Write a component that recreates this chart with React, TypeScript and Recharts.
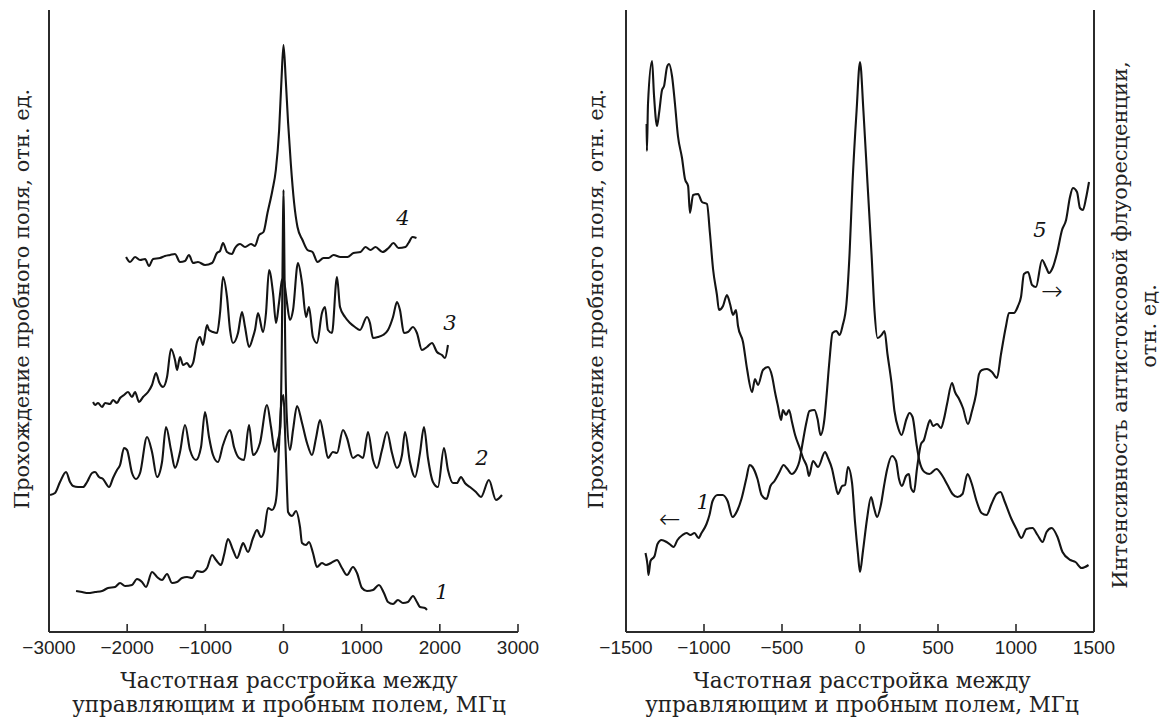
import React from "react";
import { LineChart, Line, XAxis, YAxis, ReferenceDot } from "recharts";

// x: detuning, MHz; y: arbitrary units (same scale on both panels)
const leftTicks = [-3000, -2000, -1000, 0, 1000, 2000, 3000];
const rightTicks = [-1500, -1000, -500, 0, 500, 1000, 1500];

const curve4 = [
  [-2014, 37.5], [-1963, 37.0], [-1899, 37.5], [-1835, 37.2], [-1771, 37.3], [-1720, 36.6],
  [-1669, 37.3], [-1580, 37.4], [-1516, 37.6], [-1452, 37.7], [-1388, 37.8], [-1324, 37.0],
  [-1260, 37.1], [-1209, 37.7], [-1157, 36.9], [-1094, 37.0], [-1004, 36.7], [-914, 36.9],
  [-851, 37.9], [-812, 38.1], [-774, 38.9], [-723, 38.0], [-659, 37.8], [-620, 38.4],
  [-556, 38.8], [-492, 38.5], [-416, 38.8], [-365, 38.6], [-312, 39.7], [-256, 40.0],
  [-205, 41.9], [-141, 44.2], [-98, 46.2], [-56, 50.2], [-26, 55.2], [0, 58.7], [29, 55.2],
  [59, 50.9], [93, 46.9], [136, 42.9], [179, 40.5], [243, 39.2], [307, 38.2], [371, 38.0],
  [435, 37.0], [512, 37.4], [576, 37.4], [640, 37.7], [729, 37.5], [819, 37.5], [895, 37.9],
  [985, 38.0], [1049, 38.5], [1113, 38.2], [1177, 38.5], [1266, 38.0], [1343, 38.4],
  [1407, 38.9], [1471, 38.4], [1560, 38.5], [1599, 38.9], [1650, 39.5], [1701, 39.4],
];

const curve3 = [
  [-2436, 23.0], [-2411, 22.7], [-2373, 22.9], [-2321, 22.5], [-2283, 22.9], [-2219, 22.8],
  [-2181, 23.2], [-2130, 22.9], [-2091, 23.4], [-2040, 23.7], [-1989, 24.0], [-1938, 23.5],
  [-1899, 24.0], [-1848, 23.0], [-1797, 23.5], [-1733, 24.0], [-1682, 24.7], [-1631, 25.9],
  [-1592, 25.0], [-1541, 24.5], [-1490, 25.5], [-1439, 28.3], [-1388, 27.2], [-1362, 26.2],
  [-1324, 27.5], [-1285, 26.7], [-1234, 26.9], [-1196, 26.5], [-1157, 26.9], [-1106, 29.0],
  [-1068, 29.5], [-1030, 28.7], [-978, 30.7], [-953, 30.2], [-902, 30.0], [-850, 29.9],
  [-812, 31.9], [-774, 35.5], [-723, 33.5], [-684, 30.2], [-646, 28.9], [-582, 29.9],
  [-531, 32.0], [-492, 30.5], [-441, 28.5], [-390, 29.5], [-365, 30.2], [-326, 31.9],
  [-262, 30.0], [-224, 31.9], [-185, 36.2], [-134, 33.9], [-96, 30.9], [-58, 32.9],
  [-19, 35.2], [0, 35.4], [19, 34.5], [45, 32.9], [83, 31.2], [122, 32.2], [185, 36.9],
  [237, 34.9], [288, 31.5], [326, 32.5], [377, 29.5], [428, 28.9], [492, 31.9], [531, 32.5],
  [569, 30.2], [620, 29.9], [684, 35.5], [723, 32.5], [787, 31.5], [851, 30.9], [914, 30.5],
  [978, 30.2], [1068, 31.5], [1106, 30.9], [1145, 29.4], [1209, 29.5], [1273, 29.7],
  [1337, 30.2], [1401, 31.5], [1452, 33.0], [1490, 32.2], [1541, 29.9], [1592, 30.0],
  [1656, 30.5], [1707, 29.9], [1771, 28.2], [1835, 28.5], [1899, 28.9], [1963, 28.0],
  [2027, 27.7], [2066, 27.4], [2104, 28.7],
];

const curve2 = [
  [-2986, 13.7], [-2923, 13.9], [-2859, 15.0], [-2782, 16.0], [-2731, 15.0], [-2692, 14.6],
  [-2628, 14.5], [-2564, 14.5], [-2513, 15.0], [-2449, 15.9], [-2411, 16.0], [-2360, 15.5],
  [-2309, 15.3], [-2232, 14.5], [-2181, 15.4], [-2130, 16.2], [-2091, 16.7], [-2040, 18.4],
  [-2002, 18.2], [-1938, 15.9], [-1887, 15.3], [-1835, 15.9], [-1746, 19.5], [-1682, 18.0],
  [-1618, 15.5], [-1554, 17.0], [-1503, 20.5], [-1439, 18.2], [-1388, 16.4], [-1324, 18.0],
  [-1260, 20.7], [-1196, 18.2], [-1119, 17.2], [-1055, 18.5], [-1004, 22.0], [-953, 19.5],
  [-902, 17.7], [-838, 17.0], [-774, 18.7], [-684, 20.2], [-633, 18.5], [-569, 17.4],
  [-505, 17.2], [-441, 20.7], [-390, 17.7], [-301, 18.9], [-211, 22.7], [-160, 20.5],
  [-109, 18.0], [-70, 19.2], [-40, 20.5], [-20, 30.0], [-8, 40.0], [0, 44.2], [8, 40.0],
  [20, 30.0], [40, 21.9], [83, 18.2], [122, 20.2], [173, 22.6], [237, 20.9], [301, 18.9],
  [365, 17.7], [416, 19.4], [467, 21.2], [518, 19.4], [569, 17.4], [633, 18.0], [684, 17.9],
  [761, 20.2], [812, 19.4], [889, 17.4], [953, 17.7], [1017, 17.4], [1081, 20.0], [1145, 17.2],
  [1196, 16.4], [1260, 18.2], [1324, 20.0], [1388, 17.9], [1452, 16.4], [1516, 17.7],
  [1554, 20.0], [1618, 17.0], [1682, 15.5], [1746, 17.9], [1797, 20.5], [1848, 17.4],
  [1912, 15.0], [1976, 14.5], [2053, 18.4], [2104, 16.2], [2168, 14.9], [2219, 14.9],
  [2270, 15.5], [2321, 14.9], [2385, 14.5], [2462, 14.0], [2526, 13.5], [2628, 15.2],
  [2718, 13.2], [2795, 13.7],
];

const curve1 = [
  [-2654, 4.1], [-2577, 4.0], [-2500, 3.9], [-2411, 4.0], [-2321, 4.1], [-2245, 4.4],
  [-2155, 4.5], [-2091, 4.9], [-2027, 4.6], [-1938, 4.7], [-1874, 5.3], [-1810, 5.0],
  [-1759, 4.5], [-1682, 6.0], [-1618, 5.5], [-1554, 5.2], [-1490, 5.8], [-1426, 4.9],
  [-1362, 5.0], [-1298, 5.4], [-1234, 5.5], [-1170, 5.4], [-1106, 6.1], [-1042, 6.0],
  [-978, 6.4], [-914, 7.7], [-863, 7.2], [-799, 6.7], [-761, 7.7], [-710, 9.3], [-646, 8.2],
  [-595, 7.4], [-531, 8.7], [-518, 8.9], [-454, 8.0], [-390, 9.4], [-339, 10.2], [-288, 9.5],
  [-249, 10.0], [-198, 12.4], [-147, 12.2], [-109, 12.7], [-83, 14.2], [-58, 18.5],
  [-32, 22.5], [0, 23.7], [19, 20.2], [45, 14.2], [58, 12.0], [109, 11.6], [160, 12.1],
  [211, 10.5], [237, 8.9], [288, 8.7], [326, 9.0], [377, 7.9], [428, 6.5], [492, 6.9],
  [544, 6.7], [608, 6.9], [684, 7.2], [748, 6.4], [812, 5.7], [889, 6.5], [940, 5.9],
  [1004, 4.4], [1068, 4.1], [1145, 4.2], [1221, 4.7], [1285, 3.9], [1337, 3.0], [1401, 2.8],
  [1464, 3.2], [1528, 2.9], [1592, 3.0], [1656, 3.6], [1707, 3.0], [1746, 2.5], [1810, 2.4],
  [1835, 2.2],
];

const trans1 = [
  [-1375, 7.9], [-1362, 6.7], [-1356, 5.7], [-1343, 7.1], [-1317, 7.6], [-1298, 8.8],
  [-1272, 9.2], [-1240, 9.0], [-1221, 8.8], [-1195, 8.5], [-1170, 9.2], [-1138, 9.7],
  [-1112, 9.9], [-1087, 9.7], [-1061, 9.9], [-1035, 9.4], [-1016, 9.9], [-984, 10.8],
  [-965, 11.7], [-945, 13.1], [-913, 13.7], [-881, 13.7], [-849, 13.1], [-817, 11.5],
  [-785, 12.2], [-760, 13.3], [-728, 15.4], [-708, 16.7], [-689, 16.5], [-657, 15.3],
  [-631, 13.7], [-599, 13.3], [-574, 14.6], [-548, 15.1], [-516, 16.0], [-490, 16.7],
  [-465, 16.3], [-439, 15.8], [-407, 16.3], [-388, 17.1], [-369, 18.8], [-343, 21.0],
  [-324, 22.1], [-292, 22.2], [-272, 21.3], [-253, 19.7], [-228, 21.3], [-215, 23.5],
  [-196, 27.1], [-176, 29.9], [-151, 30.1], [-131, 29.7], [-112, 30.6], [-87, 32.8],
  [-67, 37.8], [-48, 44.9], [-22, 52.1], [0, 57.0], [22, 52.1], [48, 44.9], [74, 37.8],
  [93, 32.1], [112, 29.4], [138, 29.7], [157, 30.1], [176, 27.8], [202, 24.9], [221, 22.1],
  [247, 20.3], [266, 19.7], [298, 21.3], [317, 21.9], [337, 21.5], [362, 18.8], [381, 17.1],
  [413, 16.0], [445, 15.8], [490, 16.3], [529, 15.6], [561, 14.7], [593, 13.8], [625, 13.5],
  [657, 13.8], [689, 15.8], [715, 14.9], [747, 13.1], [779, 11.9], [811, 11.7], [843, 12.8],
  [875, 13.8], [901, 14.0], [926, 13.1], [971, 11.3], [1003, 10.3], [1035, 9.4], [1067, 10.3],
  [1106, 10.4], [1138, 9.7], [1170, 9.0], [1196, 10.0], [1228, 10.4], [1266, 9.5],
  [1298, 8.0], [1349, 7.2], [1381, 7.0], [1420, 6.4], [1465, 6.7],
];

const fluor5 = [
  [-1368, 50.8], [-1366, 48.1], [-1359, 52.8], [-1333, 57.1], [-1321, 53.8], [-1301, 50.6],
  [-1288, 51.9], [-1269, 54.2], [-1256, 54.6], [-1237, 56.5], [-1224, 56.8], [-1205, 55.6],
  [-1186, 52.8], [-1167, 49.6], [-1141, 47.4], [-1122, 45.3], [-1102, 44.6], [-1090, 41.9],
  [-1070, 43.7], [-1038, 43.8], [-1013, 43.0], [-981, 42.8], [-962, 39.9], [-942, 36.3],
  [-917, 33.7], [-904, 32.2], [-878, 32.6], [-853, 33.7], [-833, 32.8], [-814, 31.7],
  [-795, 32.2], [-782, 30.6], [-750, 29.0], [-724, 26.3], [-692, 24.0], [-673, 25.3],
  [-654, 24.7], [-622, 26.2], [-590, 26.5], [-564, 25.6], [-545, 24.0], [-526, 22.6],
  [-506, 21.2], [-494, 22.2], [-474, 21.7], [-455, 22.2], [-436, 21.0], [-416, 19.7],
  [-384, 18.3], [-365, 17.4], [-340, 16.5], [-327, 15.6], [-301, 17.1], [-269, 16.5],
  [-224, 18.0], [-205, 17.4], [-179, 16.3], [-160, 14.9], [-141, 13.8], [-115, 14.6],
  [-96, 14.7], [-77, 16.5], [-51, 14.9], [-32, 11.0], [-13, 7.8], [0, 6.0], [19, 8.1],
  [45, 11.3], [71, 13.5], [90, 12.4], [109, 11.5], [135, 12.8], [154, 14.6], [173, 16.2],
  [205, 17.6], [231, 17.1], [250, 15.3], [269, 14.6], [295, 15.6], [314, 15.8], [327, 14.4],
  [346, 14.0], [365, 16.3], [391, 18.8], [410, 19.2], [429, 20.3], [449, 21.2], [468, 20.6],
  [494, 20.8], [519, 20.4], [538, 21.3], [558, 22.8], [590, 24.9], [609, 24.0], [635, 23.3],
  [660, 22.4], [692, 20.8], [718, 22.1], [744, 23.8], [763, 25.8], [782, 26.2], [814, 26.3],
  [846, 26.0], [878, 25.4], [904, 27.8], [936, 30.6], [955, 31.9], [987, 31.9], [1013, 32.6],
  [1032, 33.5], [1051, 35.8], [1077, 36.0], [1103, 34.7], [1128, 34.5], [1167, 37.2],
  [1192, 36.5], [1212, 35.9], [1237, 36.5], [1263, 37.9], [1295, 40.2], [1321, 41.2],
  [1346, 43.5], [1365, 44.4], [1391, 44.0], [1410, 42.4], [1429, 42.2], [1449, 43.4],
  [1468, 45.0],
];

const leftLabels = [
  { x: 1528, y: 41.4, text: "4" },
  { x: 2130, y: 30.9, text: "3" },
  { x: 2539, y: 17.4, text: "2" },
  { x: 2027, y: 4.0, text: "1" },
];
const rightLabels = [
  { x: 1154, y: 40.2, text: "5", italic: true },
  { x: 1231, y: 34.1, text: "→", italic: false },
  { x: -1006, y: 13.0, text: "1", italic: true },
  { x: -1218, y: 11.3, text: "←", italic: false },
];

const toRows = (pts: number[][]) => pts.map(([f, v]) => ({ f, v }));

const INK = "#141414";
const AXIS = "#2b2b2b";
const SERIF = "'DejaVu Serif', serif";
const SANS = "'Liberation Sans', Arial, sans-serif";
const Y_MAX = 62.2;

const fmt = (v: number) => (v < 0 ? "\u2212" + Math.abs(v) : String(v));

const InTick = (props: any) => {
  const { x, y, payload } = props;
  return (
    <g>
      <line x1={x} x2={x} y1={y} y2={y - 8} stroke={AXIS} strokeWidth={1.6} />
      <text x={x} y={y + 22} textAnchor="middle" fontFamily={SANS} fontSize={19} fill="#222">
        {fmt(payload.value)}
      </text>
    </g>
  );
};

function curveLabel(l: { x: number; y: number; text: string; italic?: boolean }, axisId: string) {
  const italic = l.italic !== false;
  return (
    <ReferenceDot
      key={l.text + l.x}
      x={l.x}
      y={l.y}
      yAxisId={axisId}
      r={0}
      fill="none"
      stroke="none"
      label={{
        value: l.text,
        position: "center",
        fill: INK,
        fontSize: italic ? 21 : 26,
        fontFamily: italic ? SERIF : "'DejaVu Sans', sans-serif",
        fontStyle: italic ? "italic" : "normal",
        fontWeight: italic ? "normal" : 200,
      }}
    />
  );
}

const xAxisProps = {
  type: "number" as const,
  dataKey: "f",
  allowDataOverflow: true,
  height: 1,
  tickLine: false,
  tickSize: 0,
  tickMargin: 0,
  tick: <InTick />,
  interval: 0 as const,
  axisLine: { stroke: AXIS, strokeWidth: 2 },
};

const yAxisProps = {
  type: "number" as const,
  domain: [0, Y_MAX],
  width: 1,
  tick: false,
  tickLine: false,
  axisLine: { stroke: AXIS, strokeWidth: 2 },
};

export default function App() {
  const series = [
    { key: "c1", pts: curve1 },
    { key: "c2", pts: curve2 },
    { key: "c3", pts: curve3 },
    { key: "c4", pts: curve4 },
  ];
  return (
    <div style={{ position: "absolute", left: 0, top: 0, width: 1163, height: 722, background: "#fff" }}>
      <div style={{ position: "absolute", left: 0, top: 0 }}>
        <LineChart width={540} height={722} margin={{ top: 10, right: 22, bottom: 89, left: 48 }}>
          <XAxis {...xAxisProps} domain={[-3000, 3000]} ticks={leftTicks} />
          <YAxis yAxisId="l" {...yAxisProps} />
          {series.map((s) => (
            <Line
              key={s.key}
              yAxisId="l"
              data={toRows(s.pts)}
              dataKey="v"
              type="monotone"
              stroke={INK}
              strokeWidth={2.1}
              dot={false}
              isAnimationActive={false}
            />
          ))}
          {leftLabels.map((l) => curveLabel(l, "l"))}
        </LineChart>
      </div>

      <div style={{ position: "absolute", left: 580, top: 0 }}>
        <LineChart width={583} height={722} margin={{ top: 10, right: 68, bottom: 89, left: 45 }}>
          <XAxis {...xAxisProps} domain={[-1500, 1500]} ticks={rightTicks} />
          <YAxis yAxisId="l" {...yAxisProps} />
          <YAxis yAxisId="r" orientation="right" {...yAxisProps} />
          <Line
            yAxisId="l"
            data={toRows(trans1)}
            dataKey="v"
            type="monotone"
            stroke={INK}
            strokeWidth={2.1}
            dot={false}
            isAnimationActive={false}
          />
          <Line
            yAxisId="r"
            data={toRows(fluor5)}
            dataKey="v"
            type="monotone"
            stroke={INK}
            strokeWidth={2.1}
            dot={false}
            isAnimationActive={false}
          />
          {rightLabels.map((l) => curveLabel(l, "l"))}
        </LineChart>
      </div>

      <svg
        width={1163}
        height={722}
        style={{ position: "absolute", left: 0, top: 0, pointerEvents: "none" }}
        fontFamily={SERIF}
        fontSize={21}
        fill="#222"
      >
        <text x={29} y={299} textAnchor="middle" transform="rotate(-90 29 299)">
          Прохождение пробного поля, отн. ед.
        </text>
        <text x={289} y={688} textAnchor="middle" fontSize={21.5}>Частотная расстройка между</text>
        <text x={289} y={712} textAnchor="middle" fontSize={21.5}>управляющим и пробным полем, МГц</text>

        <text x={603} y={299} textAnchor="middle" transform="rotate(-90 603 299)">
          Прохождение пробного поля, отн. ед.
        </text>
        <text x={862} y={688} textAnchor="middle" fontSize={21.5}>Частотная расстройка между</text>
        <text x={862} y={712} textAnchor="middle" fontSize={21.5}>управляющим и пробным полем, МГц</text>

        <text x={1127} y={325} textAnchor="middle" transform="rotate(-90 1127 325)">
          Интенсивность антистоксовой флуоресценции,
        </text>
        <text x={1156} y={326} textAnchor="middle" transform="rotate(-90 1156 326)">
          отн. ед.
        </text>
      </svg>
    </div>
  );
}
